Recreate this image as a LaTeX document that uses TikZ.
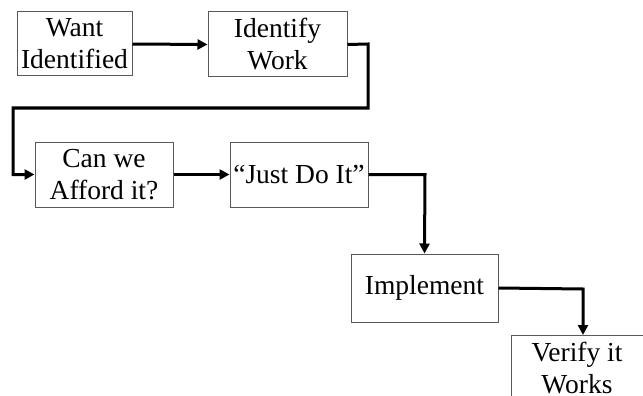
\documentclass[tikz,border=0pt]{standalone}
\usepackage{fontspec}
\setmainfont{Liberation Serif}
\usetikzlibrary{arrows.meta}
\begin{document}
\begin{tikzpicture}[x=1pt,y=-1pt,
  stepbox/.style={draw=black!65,line width=1pt,inner sep=0pt,align=center,
    font=\fontsize{27.5}{32}\selectfont},
  conn/.style={line width=3pt,-{Triangle[length=10pt,width=10pt]}}]
\useasboundingbox (0,0) rectangle (643,396);
\node[stepbox,minimum width=115pt,minimum height=64pt] (b1) at (74.5,44) {Want\\Identified};
\node[stepbox,minimum width=139pt,minimum height=65pt] (b2) at (277.5,44.5) {Identify\\Work};
\node[stepbox,minimum width=138pt,minimum height=65pt] (b3) at (104,174.5) {Can we\\Afford it?};
\node[stepbox,minimum width=138pt,minimum height=65pt] (b4) at (299,174.5) {“Just Do It”};
\node[stepbox,minimum width=147pt,minimum height=68pt] (b5) at (424.5,288) {Implement};
\node[stepbox,minimum width=132pt,minimum height=66pt,anchor=north] (b6) at (577,335) {Verify it\\Works};
\coordinate (c1) at (368,44);
\coordinate (c2) at (368,108);
\coordinate (c3) at (13,108);
\coordinate (c4) at (13,174.5);
\coordinate (c5) at (425,174.5);
\coordinate (c6) at (583,289);
\coordinate (c7) at (583,335);
\draw[conn] (b1.east) -- (b2.west);
\draw[conn,line join=miter] (b2.east) -- (c1) -- (c2) -- (c3) -- (c4) -- (b3.west);
\draw[conn] (b3.east) -- (b4.west);
\draw[conn,line join=miter] (b4.east) -- (c5) -- (b5.north);
\draw[conn,line join=miter] (b5.east) -- (c6) -- (c7);
\end{tikzpicture}
\end{document}
